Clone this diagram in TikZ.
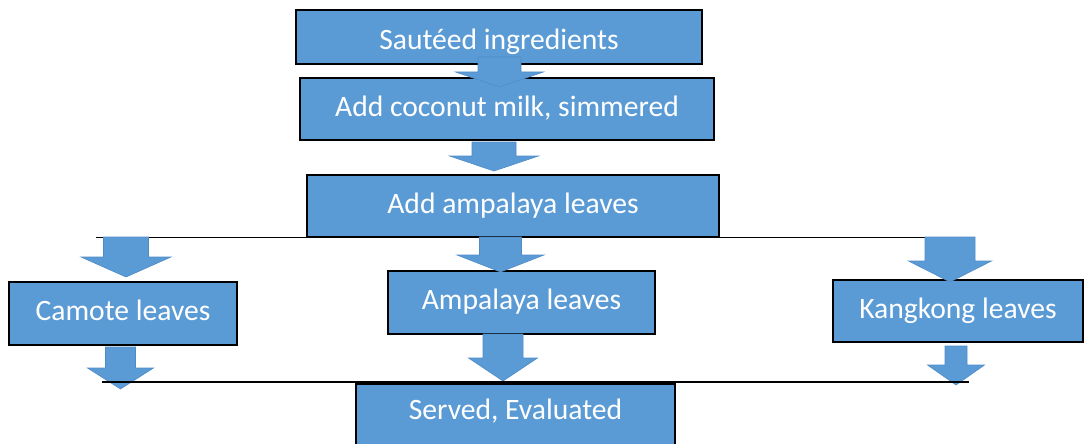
\documentclass[tikz,border=0pt]{standalone}
\usepackage{fontspec}
\setmainfont{Carlito}
\usetikzlibrary{calc}
\definecolor{boxblue}{HTML}{5B9BD5}
\definecolor{arrowedge}{HTML}{4F8CC6}
\tikzset{
  stepbox/.style={rectangle, draw=black, line width=1.6pt, fill=boxblue,
    text=white, font=\fontsize{29.6}{31}\selectfont, inner sep=0pt,
    text height=20pt, text depth=6pt},
  barrow/.style={fill=boxblue, draw=arrowedge, line width=0.6pt},
  hline/.style={draw=black, line width=1.5pt}
}
\newcommand\blockarrow[5]{%
  \path[barrow] ($(#1)+(-#3,0)$) -- ($(#2)+(-#3,-#5)$) -- ($(#2)+(-#4,-#5)$)
    -- (#2) -- ($(#2)+(#4,-#5)$) -- ($(#2)+(#3,-#5)$) -- ($(#1)+(#3,0)$) -- cycle;}
\begin{document}
\begin{tikzpicture}[x=1pt,y=-1pt]
\useasboundingbox (0,0) rectangle (1092,444);
\clip (0,0) rectangle (1092,444);
% top connecting line
\coordinate (t1) at (96,237.5);
\coordinate (t2) at (970,237.5);
\draw[hline] (t1) -- (t2);
% boxes
\node[stepbox, minimum width=406pt, minimum height=54pt, text height=26pt, text depth=0pt] (saute) at (499,37) {Sautéed ingredients};
\node[stepbox, minimum width=414pt, minimum height=62pt] (milk) at (507,109) {Add coconut milk, simmered};
\node[stepbox, minimum width=412pt, minimum height=62pt] (addamp) at (513,206) {Add ampalaya leaves};
\node[stepbox, minimum width=228pt, minimum height=63pt] (camote) at (123,313.5) {Camote leaves};
\node[stepbox, minimum width=267pt, minimum height=63pt] (amp) at (521.5,302.5) {Ampalaya leaves};
\node[stepbox, minimum width=250pt, minimum height=62pt] (kang) at (958,311) {Kangkong leaves};
\node[stepbox, minimum width=319pt, anchor=north, text height=36pt, text depth=60pt] (served) at (515.5,383) {Served, Evaluated};
% arrow end points
\coordinate (a1s) at (499.5,57);  \coordinate (a1e) at (499.5,87);
\coordinate (a2s) at (494,142);   \coordinate (a2e) at (494,171);
\coordinate (l1s) at (126,237);   \coordinate (l1e) at (126,277);
\coordinate (l2s) at (120.5,347); \coordinate (l2e) at (120.5,389);
\coordinate (m1s) at (500.5,237); \coordinate (m1e) at (500.5,272);
\coordinate (m2s) at (503,334);   \coordinate (m2e) at (503,381);
\coordinate (r1s) at (950,237);   \coordinate (r1e) at (950,282);
\coordinate (r2s) at (956,346);   \coordinate (r2e) at (956,385);
% block arrows
\blockarrow{a1s}{a1e}{21.5}{44}{15}
\blockarrow{a2s}{a2e}{22}{44.5}{15}
\blockarrow{l1s}{l1e}{22.5}{45}{20}
\blockarrow{l2s}{l2e}{15}{33}{21}
\blockarrow{m1s}{m1e}{21}{43.5}{17}
\blockarrow{m2s}{m2e}{20}{34.5}{23}
\blockarrow{r1s}{r1e}{25}{41.5}{21}
\blockarrow{r2s}{r2e}{11}{28.5}{20}
% bottom connecting line
\coordinate (b1) at (102,382);
\coordinate (b2) at (969,382);
\draw[hline] (b1) -- (b2);
\end{tikzpicture}
\end{document}
